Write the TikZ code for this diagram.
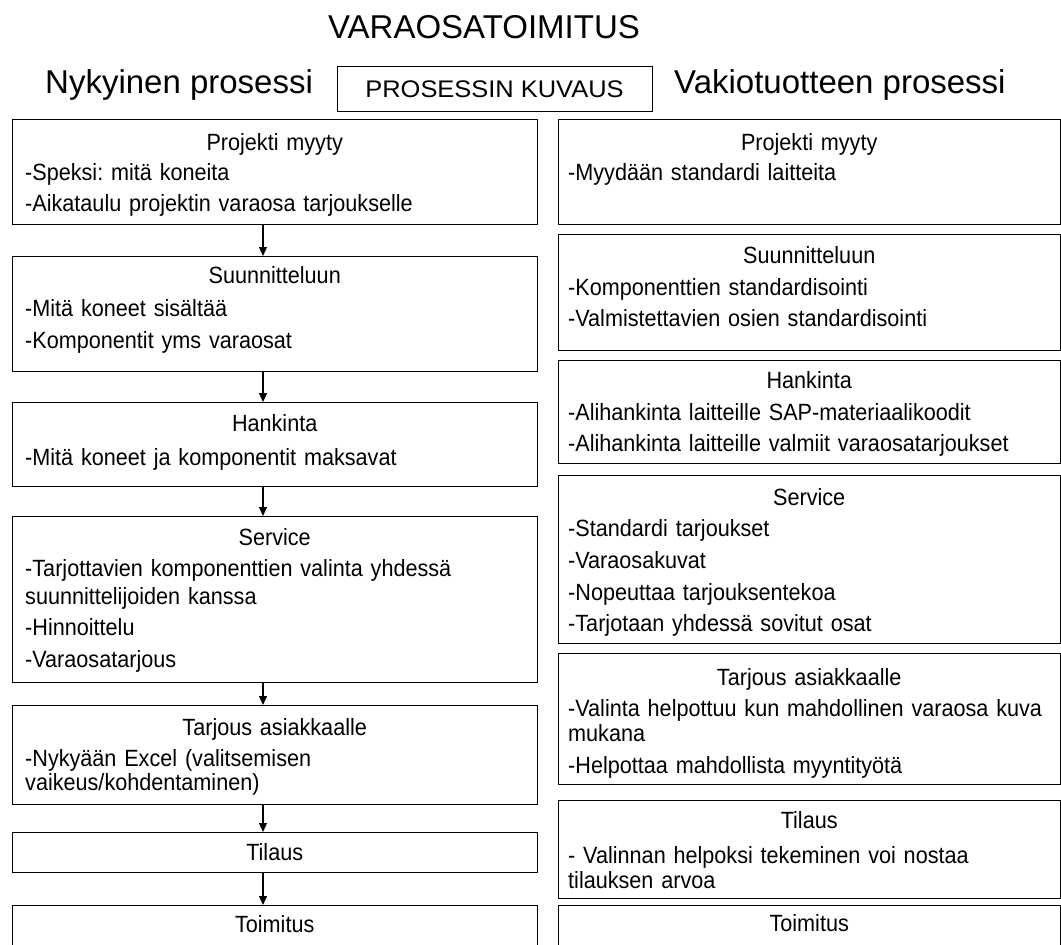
\documentclass[tikz,border=0pt]{standalone}
\usepackage{fontspec}
\setmainfont{Liberation Sans}
\newfontfamily\bodyfont{Liberation Sans}[FakeStretch=0.92]
\newfontfamily\widefont{Liberation Sans}[FakeStretch=1.06]
\usetikzlibrary{arrows.meta}
\newcommand\boxhead[1]{\makebox[\linewidth]{#1}}
\frenchspacing
\begin{document}
\begin{tikzpicture}[x=1pt,y=-1pt,
  box/.style={draw=black, line width=1.4pt, inner sep=0pt, anchor=north west, fill=white},
  lbox/.style={box, minimum width=525pt},
  rbox/.style={box, minimum width=502pt},
  txt/.style={anchor=base west, inner sep=0pt, align=left, font=\bodyfont\fontsize{23.5}{25}\selectfont},
  ltxt/.style={txt, text width=499pt},
  rtxt/.style={txt, text width=482pt},
  big/.style={inner sep=0pt, anchor=base west, font=\fontsize{33}{40}\selectfont},
  arr/.style={line width=1.3pt, -{Triangle[width=8pt,length=9pt]}}
]
\fill[white] (0,0) rectangle (1061,945);
\useasboundingbox (0,0) rectangle (1061,945);

% headings
\node[big, anchor=base] (title) at (484,38) {VARAOSATOIMITUS};
\node[big] (nyk) at (45,93) {Nykyinen prosessi};
\node[big] (vak) at (674,93) {Vakiotuotteen prosessi};
\node[box, minimum width=315pt, minimum height=45pt] (kuv) at (337,66) {};
\node[inner sep=0pt, anchor=base, font=\widefont\fontsize{24}{28}\selectfont] (kuvt) at (494.5,97) {PROSESSIN KUVAUS};

% left column boxes
\node[lbox, minimum height=105pt] (L1) at (12,119) {};
\node[lbox, minimum height=115pt] (L2) at (12,256) {};
\node[lbox, minimum height=84pt]  (L3) at (12,402) {};
\node[lbox, minimum height=166pt] (L4) at (12,516) {};
\node[lbox, minimum height=99pt]  (L5) at (12,705) {};
\node[lbox, minimum height=40pt]  (L6) at (12,832) {};
\node[lbox, minimum height=70pt]  (L7) at (12,905) {};

\node[ltxt] (L1t) at (25,150) {\boxhead{Projekti myyty}\\[5.5pt]
 -Speksi: mitä koneita\\[6pt]
 -Aikataulu projektin varaosa tarjoukselle};
\node[ltxt] (L2t) at (25,283) {\boxhead{Suunnitteluun}\\[8pt]
 -Mitä koneet sisältää\\[7pt]
 -Komponentit yms varaosat};
\node[ltxt] (L3t) at (25,431) {\boxhead{Hankinta}\\[9pt]
 -Mitä koneet ja komponentit maksavat};
\node[ltxt] (L4t) at (25,545) {\boxhead{Service}\\[6pt]
 \mbox{-Tarjottavien komponenttien valinta yhdessä}\\[3pt]
 suunnittelijoiden kanssa\\[6pt]
 -Hinnoittelu\\[7pt]
 -Varaosatarjous};
\node[ltxt] (L5t) at (25,735) {\boxhead{Tarjous asiakkaalle}\\[6pt]
 -Nykyään Excel (valitsemisen\\[-1pt]
 vaikeus/kohdentaminen)};
\node[ltxt] (L6t) at (25,860) {\boxhead{Tilaus}};
\node[ltxt] (L7t) at (25,932) {\boxhead{Toimitus}};

% arrows
\coordinate (ax) at (263,0);
\draw[arr] (L1.south -| ax) -- (L2.north -| ax);
\draw[arr] (L2.south -| ax) -- (L3.north -| ax);
\draw[arr] (L3.south -| ax) -- (L4.north -| ax);
\draw[arr] (L4.south -| ax) -- (L5.north -| ax);
\draw[arr] (L5.south -| ax) -- (L6.north -| ax);
\draw[arr] (L6.south -| ax) -- (L7.north -| ax);

% right column boxes
\node[rbox, minimum height=105pt] (R1) at (558,119) {};
\node[rbox, minimum height=116pt] (R2) at (558,234) {};
\node[rbox, minimum height=103pt] (R3) at (558,360) {};
\node[rbox, minimum height=168pt] (R4) at (558,475) {};
\node[rbox, minimum height=131pt] (R5) at (558,653) {};
\node[rbox, minimum height=98pt]  (R6) at (558,800) {};
\node[rbox, minimum height=70pt]  (R7) at (558,905) {};

\node[rtxt] (R1t) at (568,150) {\boxhead{Projekti myyty}\\[5pt]
 -Myydään standardi laitteita};
\node[rtxt] (R2t) at (568,263) {\boxhead{Suunnitteluun}\\[7pt]
 -Komponenttien standardisointi\\[6pt]
 -Valmistettavien osien standardisointi};
\node[rtxt] (R3t) at (568,388) {\boxhead{Hankinta}\\[7pt]
 \mbox{-Alihankinta laitteille SAP-materiaalikoodit}\\[6pt]
 \mbox{-Alihankinta laitteille valmiit varaosatarjoukset}};
\node[rtxt] (R4t) at (568,505) {\boxhead{Service}\\[6pt]
 -Standardi tarjoukset\\[7pt]
 -Varaosakuvat\\[7pt]
 -Nopeuttaa tarjouksentekoa\\[6pt]
 -Tarjotaan yhdessä sovitut osat};
\node[rtxt] (R5t) at (568,685) {\boxhead{Tarjous asiakkaalle}\\[6pt]
 \mbox{-Valinta helpottuu kun mahdollinen varaosa kuva}\\[0pt]
 mukana\\[7pt]
 -Helpottaa mahdollista myyntityötä};
\node[rtxt] (R6t) at (568,828) {\boxhead{Tilaus}\\[10pt]
 \mbox{- Valinnan helpoksi tekeminen voi nostaa}\\[0pt]
 tilauksen arvoa};
\node[rtxt] (R7t) at (568,931) {\boxhead{Toimitus}};
\end{tikzpicture}
\end{document}
